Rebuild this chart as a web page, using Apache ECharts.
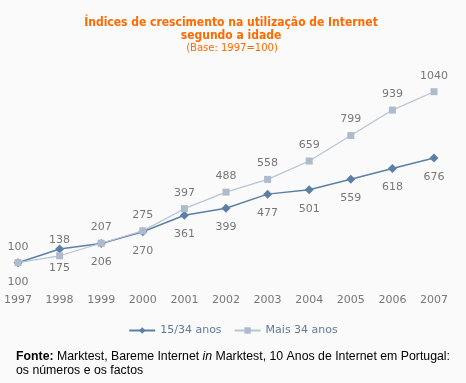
<!DOCTYPE html>
<html><head><meta charset="utf-8">
<script src="https://cdn.jsdelivr.net/npm/echarts@6/dist/echarts.min.js"></script>
<style>html,body{margin:0;padding:0;background:#fafafa}#c{width:466px;height:383px}</style>
</head><body><div id="c"></div>
<script>
const years = ['1997','1998','1999','2000','2001','2002','2003','2004','2005','2006','2007'];
const young = [100,175,206,270,361,399,477,501,559,618,676];
const older = [100,138,207,275,397,488,558,659,799,939,1040];
const seriesNames = ['15/34 anos','Mais 34 anos'];

const chart = echarts.init(document.getElementById('c'));
const lblFont = {fontFamily:'DejaVu Sans', fontSize:11, color:'#777777'};
chart.setOption({
  backgroundColor:'#fafafa',
  animation:false,
  title:[{
    text:'Índices de crescimento na utilização de Internet\nsegundo a idade',
    left:226, textAlign:'center', top:11,
    textStyle:{fontFamily:'DejaVu Sans Condensed', fontWeight:'bold', fontSize:12, color:'#FF6A00', lineHeight:13}
  },{
    text:'(Base: 1997=100)',
    left:227, textAlign:'center', top:38,
    textStyle:{fontFamily:'DejaVu Sans', fontWeight:'normal', fontSize:10, color:'#FF6A00'}
  },{
    text:'{b|Fonte:} Marktest, Bareme Internet {i|in} Marktest, 10 Anos de Internet em Portugal:\nos números e os factos',
    left:11, top:345,
    textStyle:{fontFamily:'Liberation Sans', fontSize:12.3, color:'#000', lineHeight:14, fontWeight:'normal',
      rich:{b:{fontWeight:'bold', fontFamily:'Liberation Sans', fontSize:12.3, color:'#000'},
            i:{fontStyle:'italic', fontFamily:'Liberation Sans', fontSize:12.3, color:'#000'}}}
  }],
  legend:{
    data:seriesNames, bottom:42, left:'center', itemGap:12, itemWidth:26, itemHeight:8,
    textStyle:{fontFamily:'DejaVu Sans', fontSize:11, color:'#607a98'}
  },
  grid:{left:18, right:32, top:62.6, bottom:102.1},
  xAxis:{type:'category', data:years, boundaryGap:false,
    axisLine:{show:false}, axisTick:{show:false}, splitLine:{show:false},
    axisLabel:Object.assign({margin:14, interval:0}, lblFont)},
  yAxis:{type:'value', min:0, max:1200, show:false},
  series:[{
    name:seriesNames[0], type:'line', data:young, symbol:'diamond', symbolSize:9,
    itemStyle:{color:'#5b80a6'}, lineStyle:{color:'#5b80a6', width:1.5},
    label:Object.assign({show:true, position:'bottom', distance:9}, lblFont), z:3
  },{
    name:seriesNames[1], type:'line', data:older, symbol:'rect', symbolSize:7,
    itemStyle:{color:'#aebbcd'}, lineStyle:{color:'#b8c4d4', width:1.2},
    label:Object.assign({show:true, position:'top', distance:7}, lblFont), z:4
  }]
});
</script></body></html>
